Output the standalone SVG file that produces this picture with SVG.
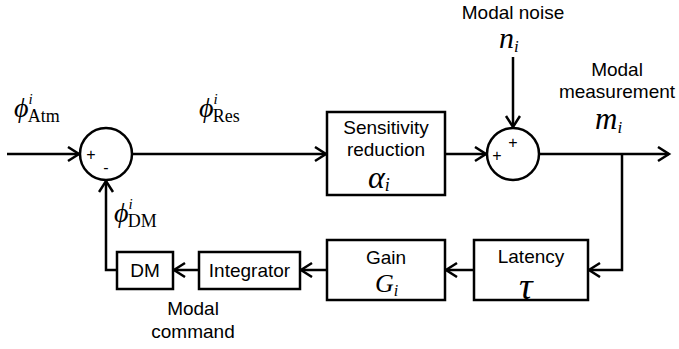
<svg xmlns="http://www.w3.org/2000/svg" width="679" height="349" viewBox="0 0 679 349">
<style>
.ln{fill:none;stroke:#000;stroke-width:2.5}
.bx{fill:#fff;stroke:#000;stroke-width:2.5}
.t{font-family:"Liberation Sans",Arial,sans-serif;font-size:19px;fill:#000;text-anchor:middle}
.m{font-family:"Liberation Serif","DejaVu Serif","Times New Roman",serif;font-style:italic;fill:#000}
.r{font-family:"Liberation Serif","Times New Roman",serif;font-style:normal}
.s{font-family:"Liberation Sans",Arial,sans-serif;font-size:16px;fill:#000;text-anchor:middle}
</style>
<defs>
<marker id="ah" markerUnits="userSpaceOnUse" markerWidth="16" markerHeight="18" refX="12" refY="8" orient="auto">
<path d="M1,1 L12,8 L1,15" fill="none" stroke="#000" stroke-width="2.5"/>
</marker>
</defs>
<g id="connectors">
<path class="ln" d="M7,154 L79,154" marker-end="url(#ah)"/>
<path class="ln" d="M132,154 L326,154" marker-end="url(#ah)"/>
<path class="ln" d="M445,154 L486,154" marker-end="url(#ah)"/>
<path class="ln" d="M513,57 L513,127" marker-end="url(#ah)"/>
<path class="ln" d="M539,154 L669,154" marker-end="url(#ah)"/>
<path class="ln" d="M622,154 L622,270 L589,270" marker-end="url(#ah)"/>
<path class="ln" d="M474,270 L446,270" marker-end="url(#ah)"/>
<path class="ln" d="M327,270 L301,270" marker-end="url(#ah)"/>
<path class="ln" d="M199,270 L174,270" marker-end="url(#ah)"/>
<path class="ln" d="M117,270 L106,270 L106,181" marker-end="url(#ah)"/>
</g>
<g id="sum1">
<circle class="bx" cx="106" cy="154" r="26"/>
<text class="s" x="91" y="160">+</text>
<text class="s" x="106" y="173">-</text>
</g>
<g id="sum2">
<circle class="bx" cx="513" cy="154" r="26"/>
<text class="s" x="497" y="161">+</text>
<text class="s" x="513" y="148">+</text>
</g>
<g id="sensitivity">
<rect class="bx" x="327" y="112" width="118" height="83"/>
<text class="t" x="386" y="134">Sensitivity</text>
<text class="t" x="386" y="156">reduction</text>
<text class="m" x="368" y="188" font-size="32">α<tspan font-size="18" dy="3">i</tspan></text>
</g>
<g id="latency">
<rect class="bx" x="474" y="240" width="114" height="60"/>
<text class="t" x="531" y="263">Latency</text>
<text class="m" x="519" y="299" font-size="38">τ</text>
</g>
<g id="gain">
<rect class="bx" x="327" y="240" width="118" height="60"/>
<text class="t" x="386" y="264">Gain</text>
<text class="m" x="375" y="292" font-size="26">G<tspan font-size="16" dy="4">i</tspan></text>
</g>
<g id="integrator">
<rect class="bx" x="199" y="252" width="101" height="37"/>
<text class="t" x="249.5" y="277">Integrator</text>
</g>
<g id="dm">
<rect class="bx" x="117" y="252" width="56" height="37"/>
<text class="t" x="145" y="277">DM</text>
</g>
<g id="labels">
<text class="m" x="14" y="117" font-size="28">ϕ<tspan font-size="15" dy="-13">i</tspan><tspan class="r" font-size="18" dx="-5" dy="18">Atm</tspan></text>
<text class="m" x="199" y="117" font-size="28">ϕ<tspan font-size="15" dy="-13">i</tspan><tspan class="r" font-size="18" dx="-5" dy="18">Res</tspan></text>
<text class="m" x="114" y="222" font-size="28">ϕ<tspan font-size="15" dy="-13">i</tspan><tspan class="r" font-size="18" dx="-5" dy="18">DM</tspan></text>
<text class="t" x="513" y="19">Modal noise</text>
<text class="m" x="499" y="48" font-size="30">n<tspan font-size="17" dy="4">i</tspan></text>
<text class="t" x="617" y="76">Modal</text>
<text class="t" x="617" y="98">measurement</text>
<text class="m" x="595" y="129" font-size="31">m<tspan font-size="17" dy="4">i</tspan></text>
<text class="t" x="193" y="315">Modal</text>
<text class="t" x="193" y="338">command</text>
</g>
</svg>
